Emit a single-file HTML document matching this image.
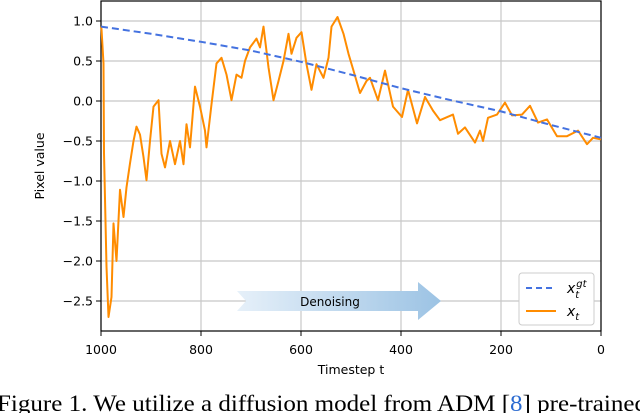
<!DOCTYPE html>
<html><head><meta charset="utf-8"><style>
html,body{margin:0;padding:0;background:#fff;width:640px;height:413px;overflow:hidden}
svg{display:block}
.tk{font-family:"DejaVu Sans",sans-serif;font-size:12.5px;fill:#000}
</style></head><body>
<svg id="chart" width="640" height="413">
<defs>
<linearGradient id="arrowGrad" x1="0" x2="1" y1="0" y2="0">
<stop offset="0" stop-color="#e6f0f9"/><stop offset="1" stop-color="#9cc3e4"/>
</linearGradient>
</defs>
<g id="grid"></g>
<g id="axes"></g>
<g id="series"></g>
<g>
<polygon points="237,291 418,291 418,282 441,301 418,320 418,311 237,311 246,301" fill="url(#arrowGrad)"/>
<text x="330" y="306" text-anchor="middle" class="tk" style="font-size:12px">Denoising</text>
</g>
<g>
<rect x="519" y="273" width="75" height="52" rx="3" fill="#fff" stroke="#ccc"/>
<line x1="526" y1="288" x2="556" y2="288" stroke="#4472e0" stroke-width="2" stroke-dasharray="6,4"/>
<text x="567" y="293" style="font-family:'DejaVu Sans',sans-serif;font-style:italic;font-size:14px">x<tspan dy="5" font-size="10">t</tspan><tspan dy="-11" dx="-3" font-size="10">gt</tspan></text>
<line x1="526" y1="311" x2="556" y2="311" stroke="#ff8c00" stroke-width="2"/>
<text x="567" y="316" style="font-family:'DejaVu Sans',sans-serif;font-style:italic;font-size:14px">x<tspan dy="4" font-size="10">t</tspan></text>
</g>
<text x="-3" y="411" textLength="650" lengthAdjust="spacingAndGlyphs" style="font-family:'Liberation Serif',serif;font-size:23px">Figure 1. We utilize a diffusion model from ADM [<tspan fill="#2a6ad0">8</tspan>] pre-trained</text>
</svg>
<script>
const xTicks=[1000,800,600,400,200,0];
const yTicks=[1.0,0.5,0.0,-0.5,-1.0,-1.5,-2.0,-2.5];
const yTickLabels=["1.0","0.5","0.0","\u22120.5","\u22121.0","\u22121.5","\u22122.0","\u22122.5"];
const gtT=[1000,900,800,700,600,500,400,300,200,100,0];
const gtV=[0.93,0.84,0.74,0.63,0.49,0.33,0.16,0.01,-0.13,-0.30,-0.46];
const xtT=[1000,999,995,994,989,985,979,975,969,962,955,949,942,935,929,922,915,909,902,895,885,879,872,862,852,842,835,829,822,812,802,792,789,779,769,759,749,739,729,719,712,702,689,682,675,665,655,645,635,625,619,609,599,589,579,569,555,545,539,527,515,505,495,482,469,462,446,432,416,398,386,368,352,336,322,296,286,272,252,242,236,226,208,192,178,158,142,126,108,88,68,46,28,16,0];
const xtV=[0.93,0.9,0.47,-0.65,-2.07,-2.7,-2.45,-1.53,-2.0,-1.11,-1.45,-1.08,-0.78,-0.5,-0.32,-0.42,-0.7,-0.99,-0.5,-0.07,0.01,-0.66,-0.83,-0.5,-0.79,-0.5,-0.79,-0.29,-0.58,0.18,-0.07,-0.37,-0.58,-0.04,0.47,0.54,0.33,0.01,0.33,0.29,0.5,0.67,0.78,0.67,0.93,0.42,0.01,0.25,0.5,0.84,0.59,0.79,0.86,0.46,0.14,0.46,0.29,0.54,0.93,1.05,0.84,0.59,0.38,0.10,0.25,0.29,0.01,0.38,-0.07,-0.2,0.14,-0.28,0.05,-0.12,-0.24,-0.17,-0.41,-0.33,-0.52,-0.37,-0.5,-0.21,-0.17,-0.02,-0.18,-0.17,-0.06,-0.27,-0.23,-0.44,-0.44,-0.37,-0.54,-0.46,-0.48];
const L=101,R=601,T=1,B=331;
const X=t=>R-(t/1000)*(R-L);
const Y=v=>101-80*v;
const NS="http://www.w3.org/2000/svg";
function mk(tag,attrs,parent){const e=document.createElementNS(NS,tag);for(const k in attrs)e.setAttribute(k,attrs[k]);parent.appendChild(e);return e;}
const grid=document.getElementById('grid'),axes=document.getElementById('axes'),series=document.getElementById('series');
xTicks.forEach(t=>{
 const g=mk('line',{x1:X(t),x2:X(t),y1:T,y2:B,stroke:'#c8c8c8','stroke-width':1.2},grid);
 
 
 const tk=mk('line',{x1:X(t),x2:X(t),y1:B,y2:B+5,stroke:'#000','stroke-width':1},axes);
 
 
 const lb=mk('text',{x:X(t),y:B+23,'text-anchor':'middle',class:'tk'},axes);
 lb.textContent=t;
 
 
});
yTicks.forEach((v,i)=>{
 const g=mk('line',{x1:L,x2:R,y1:Y(v),y2:Y(v),stroke:'#c8c8c8','stroke-width':1.2},grid);
 
 
 const tk=mk('line',{x1:L-5,x2:L,y1:Y(v),y2:Y(v),stroke:'#000','stroke-width':1},axes);
 
 
 const lb=mk('text',{x:L-8,y:Y(v)+4.5,'text-anchor':'end',class:'tk'},axes);
 lb.textContent=yTickLabels[i];
 
 
});
const frame=mk('rect',{x:L,y:T,width:R-L,height:B-T,fill:'none',stroke:'#000','stroke-width':1.2},axes);


const xl=mk('text',{x:(L+R)/2,y:374,'text-anchor':'middle',class:'tk'},axes);
xl.textContent='Timestep t';


const yl=mk('text',{x:0,y:0,'text-anchor':'middle',class:'tk',transform:'translate(44,'+((T+B)/2)+') rotate(-90)'},axes);
yl.textContent='Pixel value';


const xp=xtT.map((t,i)=>X(t).toFixed(1)+','+Y(xtV[i]).toFixed(1)).join(' ');
const xline=mk('polyline',{points:xp,fill:'none',stroke:'#ff8c00','stroke-width':2,'stroke-linejoin':'round'},series);


const gp=gtT.map((t,i)=>X(t).toFixed(1)+','+Y(gtV[i]).toFixed(1)).join(' ');
const gline=mk('polyline',{points:gp,fill:'none',stroke:'#4472e0','stroke-width':2,'stroke-dasharray':'7,4'},series);


</script>
</body></html>
